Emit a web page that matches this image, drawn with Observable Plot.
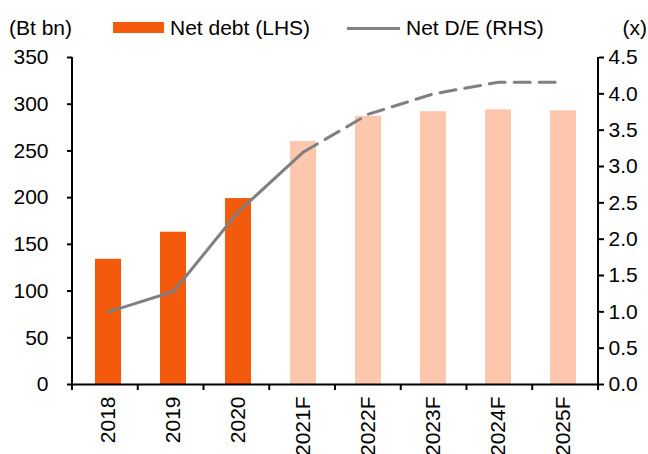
<!DOCTYPE html>
<html>
<head>
<meta charset="utf-8">
<script src="https://cdn.jsdelivr.net/npm/d3@7"></script>
<script src="https://cdn.jsdelivr.net/npm/@observablehq/plot@0.6"></script>
<style>
  html, body { margin: 0; padding: 0; background: #fff; overflow: hidden; }
  body { width: 648px; height: 454px; font-family: "Liberation Sans", Arial, sans-serif; }
  #legend { position: relative; height: 40px; font-size: 21px; color: #000; }
  #legend span { position: absolute; white-space: nowrap; line-height: 21px; top: 17px; }
  #legend .sw { position: absolute; }
  #chart svg { display: block; overflow: visible; }
</style>
</head>
<body>
<div id="legend">
  <span style="left:9px">(Bt bn)</span>
  <div class="sw" style="left:113px; top:22px; width:51px; height:11px; background:#F35A0C"></div>
  <span style="left:170px">Net debt (LHS)</span>
  <div class="sw" style="left:347px; top:27px; width:53px; height:3px; background:#808080"></div>
  <span style="left:406px">Net D/E (RHS)</span>
  <span style="right:1px">(x)</span>
</div>
<div id="chart"></div>
<script>
const categories = ["2018", "2019", "2020", "2021F", "2022F", "2023F", "2024F", "2025F"];
const netDebt = [134, 163, 199, 260, 287, 292, 294, 293];
const netDE = [1.0, 1.28, 2.38, 3.2, 3.72, 4.0, 4.16, 4.16];
const leftTicks = [0, 50, 100, 150, 200, 250, 300, 350];
const rightTicks = [0, 0.5, 1.0, 1.5, 2.0, 2.5, 3.0, 3.5, 4.0, 4.5];

const leftMax = 350, rightMax = 4.5;
const k = leftMax / rightMax;
const DARK = "#F35A0C", LIGHT = "#FDC7AD", GRAY = "#808080";

const table = categories.map((c, i) => ({cat: c, debt: netDebt[i], de: netDE[i], forecast: c.endsWith("F")}));
const actual = table.filter(d => !d.forecast);
const forecast = table.filter(d => d.forecast);
const lastActualIdx = table.findIndex(d => d.forecast); // first forecast year
const solidPart = table.slice(0, lastActualIdx + 1);
const dashedPart = table.slice(lastActualIdx);

// axis lines and band-boundary ticks
function frameMark(index, scales, values, dim) {
  const g = d3.create("svg:g").attr("stroke", "#000").attr("stroke-width", 2).attr("fill", "none");
  const x0 = dim.marginLeft, x1 = dim.width - dim.marginRight;
  const yTop = scales.y(leftMax), yBot = scales.y(0);
  g.append("line").attr("x1", x0).attr("x2", x0).attr("y1", yTop).attr("y2", yBot + 1);
  g.append("line").attr("x1", x1).attr("x2", x1).attr("y1", yTop).attr("y2", yBot + 1);
  const n = categories.length;
  for (let i = 0; i <= n; i++) {
    const xx = x0 + (x1 - x0) * i / n;
    g.append("line").attr("x1", xx).attr("x2", xx).attr("y1", yBot).attr("y2", yBot + 6);
  }
  return g.node();
}

const chart = Plot.plot({
  width: 648,
  height: 414,
  marginTop: 17,
  marginBottom: 70,
  marginLeft: 72,
  marginRight: 50,
  style: {fontFamily: "'Liberation Sans', Arial, sans-serif", fontSize: "21px", color: "#000", background: "#fff", overflow: "visible"},
  x: {domain: categories, paddingInner: 0.6, paddingOuter: 0.3, label: null},
  y: {domain: [0, leftMax], label: null},
  marks: [
    Plot.barY(actual, {x: "cat", y: "debt", fill: DARK}),
    Plot.barY(forecast, {x: "cat", y: "debt", fill: LIGHT}),
    Plot.lineY(solidPart, {x: "cat", y: d => d.de * k, stroke: GRAY, strokeWidth: 3}),
    Plot.lineY(dashedPart, {x: "cat", y: d => d.de * k, stroke: GRAY, strokeWidth: 3, strokeDasharray: "16,9"}),
    Plot.ruleY([0], {stroke: "#000", strokeWidth: 2}),
    Plot.axisY(leftTicks, {anchor: "left", tickSize: 5, tickPadding: 19, strokeWidth: 2, label: null}),
    Plot.axisY(rightTicks.map(v => v * k), {anchor: "right", tickSize: 5, tickPadding: 5, strokeWidth: 2, tickFormat: d => (d / k).toFixed(1), label: null}),
    Plot.axisX({tickSize: 0, tickPadding: 12, tickRotate: -90, label: null}),
    frameMark
  ]
});
document.getElementById("chart").appendChild(chart);
</script>
</body>
</html>
